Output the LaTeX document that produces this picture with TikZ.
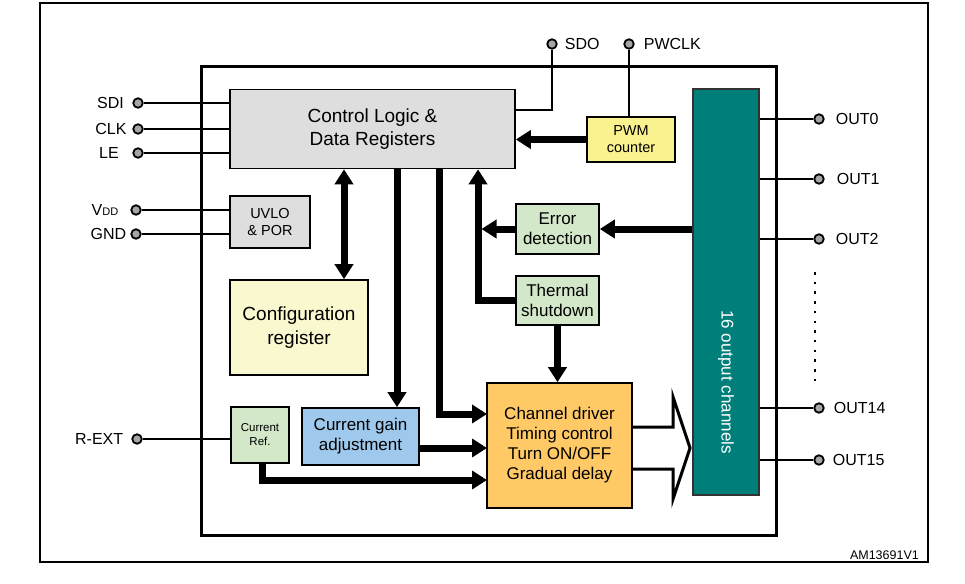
\documentclass[tikz,border=0pt]{standalone}
\usepackage{fontspec}
\setmainfont{Liberation Sans}
\usepackage{tikz}
\usetikzlibrary{arrows.meta,positioning}
\definecolor{ctrlgray}{HTML}{DEDEDE}
\definecolor{cfgyellow}{HTML}{FAF8CE}
\definecolor{pwmyellow}{HTML}{FAF28E}
\definecolor{blockgreen}{HTML}{D3E8C8}
\definecolor{gainblue}{HTML}{9FC9EC}
\definecolor{drvorange}{HTML}{FFC966}
\definecolor{chteal}{HTML}{007F7A}
\tikzstyle{block}=[draw,line width=1.6pt,align=center,inner sep=0pt]
\tikzstyle{pinnode}=[circle,draw,fill=black!35,line width=1.8pt,minimum size=9.5pt,inner sep=0pt]
\tikzstyle{pinlabel}=[inner sep=1pt,font=\fontsize{16}{16}\selectfont]
\tikzstyle{wire}=[draw,line width=2.2pt]
\tikzstyle{bus}=[draw,line width=7pt,-{Triangle[length=15pt,width=18pt]}]
\tikzstyle{bigfont}=[font=\fontsize{19}{23.5}\selectfont]
\tikzstyle{midfont}=[font=\fontsize{17}{20}\selectfont]
\tikzstyle{smallfont}=[font=\fontsize{14.5}{17.5}\selectfont]

\begin{document}
\begin{tikzpicture}[x=1pt,y=-1pt]
        \useasboundingbox (0,0) rectangle (965,583);
        % frames
        \draw[line width=2.2pt] (40,3) rectangle (928,562);
        \draw[line width=3pt] (201,67) rectangle (776,535);
        % blocks
        \node[block,bigfont,fill=ctrlgray,minimum width=285pt,minimum height=79pt] (ctrl) at (372.5,129) {Control Logic \&\\Data Registers};
        \node[block,smallfont,fill=ctrlgray,minimum width=80pt,minimum height=52pt] (uvlo) at (270,222) {UVLO\\\& POR};
        \node[block,bigfont,fill=cfgyellow,minimum width=138pt,minimum height=95pt] (config) at (299,327.5) {Configuration\\register};
        \node[block,font=\fontsize{14.5}{17}\selectfont,fill=pwmyellow,minimum width=88pt,minimum height=45pt] (pwm) at (631,139.5) {PWM\\counter};
        \node[block,midfont,fill=blockgreen,minimum width=83pt,minimum height=50pt] (err) at (557.5,229) {Error\\detection};
        \node[block,midfont,fill=blockgreen,minimum width=83pt,minimum height=49pt] (thermal) at (557.5,300.5) {Thermal\\shutdown};
        \node[block,midfont,fill=drvorange,minimum width=145pt,minimum height=125pt] (driver) at (559.5,445.5) {Channel driver\\Timing control\\Turn ON/OFF\\Gradual delay};
        \node[block,midfont,fill=gainblue,minimum width=117pt,minimum height=57pt] (gain) at (360.5,436.5) {Current gain\\adjustment};
        \node[block,font=\fontsize{11.5}{14}\selectfont,fill=blockgreen,minimum width=58pt,minimum height=56pt] (cref) at (260,435) {Current\\Ref.};
        \node[draw=black!80,line width=1.5pt,fill=chteal,minimum width=66pt,minimum height=406pt,inner sep=0pt] (teal) at (726,292) {};
        \node[rotate=-90,text=white,midfont,inner sep=0pt] (tealtxt) at (726,382) {16 output channels};
        % pins
        \node[pinnode] (sdi) at (138,103) {};
        \node[pinnode] (clk) at (138,129) {};
        \node[pinnode] (le) at (138,153) {};
        \node[pinnode] (vdd) at (136,210) {};
        \node[pinnode] (gnd) at (136,234) {};
        \node[pinnode] (rext) at (137,439) {};
        \node[pinnode] (sdo) at (552,44) {};
        \node[pinnode] (pwclk) at (629,44) {};
        \node[pinnode] (out0) at (819,119) {};
        \node[pinnode] (out1) at (819,179) {};
        \node[pinnode] (out2) at (819,239) {};
        \node[pinnode] (out14) at (819,408) {};
        \node[pinnode] (out15) at (819,460) {};
        % pin labels
        \node[pinlabel] (sdilbl) at (110.5,103) {SDI};
        \node[pinlabel] (clklbl) at (111,129) {CLK};
        \node[pinlabel] (lelbl) at (109,153) {LE};
        \node[pinlabel] (vddlbl) at (105,210) {V{\fontsize{11}{11}\selectfont DD}};
        \node[pinlabel] (gndlbl) at (108.5,234) {GND};
        \node[pinlabel,left=7pt of rext] (rextlbl) {R-EXT};
        \node[pinlabel,right=6pt of sdo] (sdolbl) {SDO};
        \node[pinlabel,right=8pt of pwclk] (pwclklbl) {PWCLK};
        \node[pinlabel,right=10pt of out0] (out0lbl) {OUT0};
        \node[pinlabel,right=11pt of out1] (out1lbl) {OUT1};
        \node[pinlabel,right=10pt of out2] (out2lbl) {OUT2};
        \node[pinlabel,right=8pt of out14] (out14lbl) {OUT14};
        \node[pinlabel,right=7pt of out15] (out15lbl) {OUT15};
        \node[inner sep=0pt,anchor=south east,font=\fontsize{12.5}{12.5}\selectfont] (docid) at (919,560) {AM13691V1};
        % helper coordinates
        \coordinate (sdoout) at (515,110);
        \coordinate (fb) at (478,299);
        \coordinate (cfgbus) at (344,0);
        \coordinate (gainbus) at (397,0);
        \coordinate (drvbus) at (439,0);
        \coordinate (drv1) at (487,414);
        \coordinate (drv2) at (487,448);
        \coordinate (drv3) at (487,480);
        \coordinate (crefout) at (262,0);
        % thin wires
        \draw[wire] (sdi) -- (sdi -| ctrl.west);
        \draw[wire] (clk) -- (clk -| ctrl.west);
        \draw[wire] (le) -- (le -| ctrl.west);
        \draw[wire] (vdd) -- (vdd -| uvlo.west);
        \draw[wire] (gnd) -- (gnd -| uvlo.west);
        \draw[wire] (rext) -- (rext -| cref.west);
        \draw[wire] (sdo) |- (sdoout);
        \draw[wire] (pwclk) -- (pwclk |- pwm.north);
        \draw[wire] (out0 -| teal.east) -- (out0);
        \draw[wire] (out1 -| teal.east) -- (out1);
        \draw[wire] (out2 -| teal.east) -- (out2);
        \draw[wire] (out14 -| teal.east) -- (out14);
        \draw[wire] (out15 -| teal.east) -- (out15);
        \draw[line width=2.5pt,dash pattern=on 2.5pt off 7.2pt] (815,272) -- (815,382);
        % thick buses
        \draw[bus] (pwm.west) -- (pwm.west -| ctrl.east);
        \draw[bus] (teal.west |- err.east) -- (err.east);
        \draw[bus] (err.west) -- ([xshift=3.5pt]fb |- err.west);
        \draw[bus] (thermal.west) -| (fb |- ctrl.south);
        \draw[bus] (thermal.south) -- (thermal.south |- driver.north);
        \draw[bus,{Triangle[length=15pt,width=18pt]}-{Triangle[length=15pt,width=18pt]}] (cfgbus |- ctrl.south) -- (cfgbus |- config.north);
        \draw[bus] (gainbus |- ctrl.south) -- (gainbus |- gain.north);
        \draw[bus] (drvbus |- ctrl.south) |- (drv1);
        \draw[bus] (drv2 -| gain.east) -- (drv2);
        \draw[bus] (crefout |- cref.south) |- (drv3);
        % hollow arrow to the output channels
        \draw[line width=3pt,line join=miter] (632,427) -- (673,427) -- (673,397) -- (690,448) -- (673,499) -- (673,469) -- (632,469);
\end{tikzpicture}
\end{document}
